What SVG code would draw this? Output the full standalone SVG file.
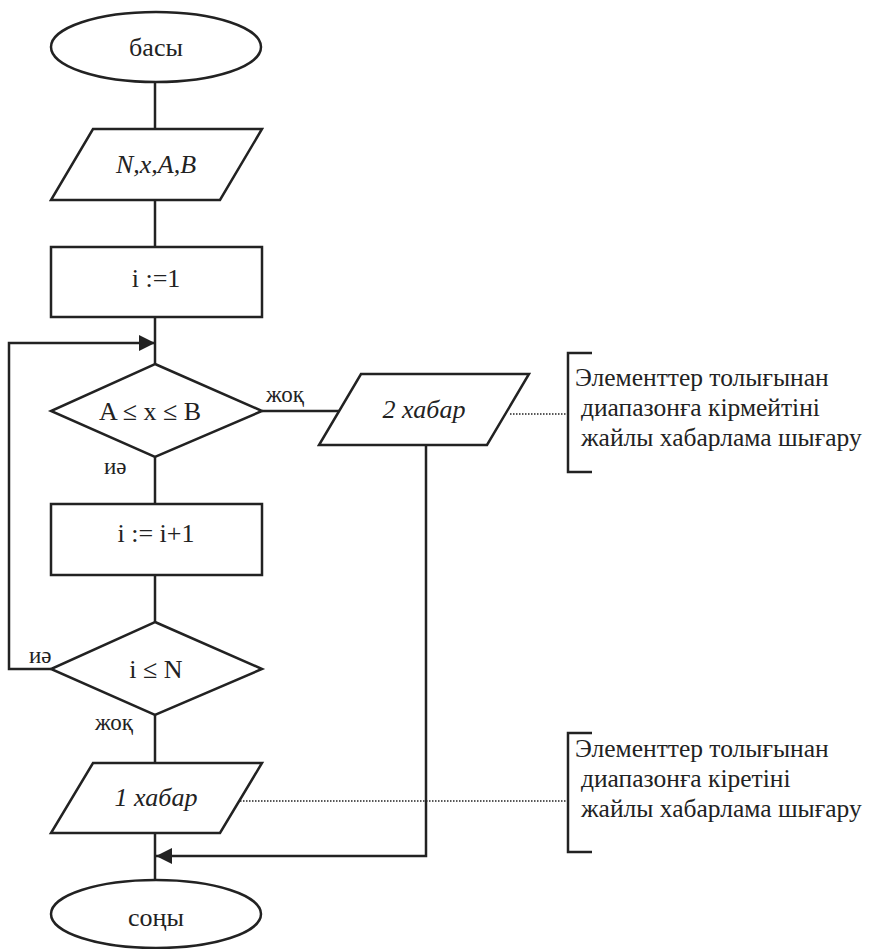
<svg xmlns="http://www.w3.org/2000/svg" width="869" height="949" viewBox="0 0 869 949">
  <defs>
    <style>
      .shape { fill: #fff; stroke: #222; stroke-width: 2.5; }
      .line { fill: none; stroke: #222; stroke-width: 2.5; }
      .dots { fill: none; stroke: #222; stroke-width: 1.5; stroke-dasharray: 1.5 1.5; }
      text { font-family: 'Liberation Serif', 'DejaVu Serif', serif; fill: #222; }
      .t { font-size: 26px; text-anchor: middle; dominant-baseline: central; }
      .it { font-style: italic; }
      .lbl { font-size: 23px; }
      .note { font-size: 25.5px; }
    </style>
    <marker id="arrow" viewBox="0 0 10 10" refX="10" refY="5" markerWidth="16" markerHeight="16" markerUnits="userSpaceOnUse" orient="auto">
      <path d="M0,0 L10,5 L0,10 Z" fill="#222"/>
    </marker>
  </defs>

  <g id="connectors">
    <line class="line" x1="155" y1="82" x2="155" y2="129"/>
    <line class="line" x1="155" y1="200" x2="155" y2="247"/>
    <line class="line" x1="155" y1="317" x2="155" y2="364"/>
    <line class="line" x1="155" y1="457" x2="155" y2="504"/>
    <line class="line" x1="155" y1="575" x2="155" y2="622"/>
    <line class="line" x1="155" y1="715" x2="155" y2="763"/>
    <line class="line" x1="155" y1="833" x2="155" y2="880"/>
    <!-- yes-branch loop back to the range check -->
    <polyline class="line" points="51,669 9,669 9,343 155,343" marker-end="url(#arrow)"/>
    <!-- no-branch to message 2 -->
    <line class="line" x1="262" y1="411" x2="340" y2="411"/>
    <!-- message 2 down to the end -->
    <polyline class="line" points="426,445 426,856 156,856" marker-end="url(#arrow)"/>
    <!-- comment leaders -->
    <line class="dots" x1="510" y1="414" x2="566" y2="414"/>
    <line class="dots" x1="240" y1="801" x2="566" y2="801"/>
    <text class="lbl" x="266" y="402">жоқ</text>
    <text class="lbl" x="104" y="474">иә</text>
    <text class="lbl" x="29" y="663">иә</text>
    <text class="lbl" x="95" y="730">жоқ</text>
  </g>

  <g id="start">
    <ellipse class="shape" cx="156" cy="47" rx="105" ry="35"/>
    <text class="t" x="156" y="47">басы</text>
  </g>

  <g id="input">
    <polygon class="shape" points="93,129 262,129 220,200 51,200"/>
    <text class="t it" x="156" y="164">N,x,A,B</text>
  </g>

  <g id="init">
    <rect class="shape" x="51" y="247" width="211" height="70"/>
    <text class="t" x="156" y="278">i :=1</text>
  </g>

  <g id="range-check">
    <polygon class="shape" points="155,364 262,411 155,457 51,411"/>
    <text class="t" x="150" y="411">A ≤ x ≤ B</text>
  </g>

  <g id="increment">
    <rect class="shape" x="51" y="504" width="211" height="71"/>
    <text class="t" x="156" y="533">i := i+1</text>
  </g>

  <g id="count-check">
    <polygon class="shape" points="155,622 262,669 155,715 51,669"/>
    <text class="t" x="156" y="669">i ≤ N</text>
  </g>

  <g id="message-2">
    <polygon class="shape" points="361,374 529,374 487,445 319,445"/>
    <text class="t it" x="424" y="409">2 хабар</text>
  </g>

  <g id="message-1">
    <polygon class="shape" points="93,763 262,763 220,833 51,833"/>
    <text class="t it" x="156" y="797">1 хабар</text>
  </g>

  <g id="end">
    <ellipse class="shape" cx="156" cy="914" rx="105" ry="34"/>
    <text class="t" x="156" y="917">соңы</text>
  </g>

  <g id="note-2">
    <polyline class="line" points="592,353 568,353 568,472 592,472"/>
    <text class="note" x="575" y="386">Элементтер толығынан</text>
    <text class="note" x="581" y="416">диапазонға кірмейтіні</text>
    <text class="note" x="581" y="446">жайлы хабарлама шығару</text>
  </g>

  <g id="note-1">
    <polyline class="line" points="592,733 568,733 568,852 592,852"/>
    <text class="note" x="575" y="757">Элементтер толығынан</text>
    <text class="note" x="581" y="787">диапазонға кіретіні</text>
    <text class="note" x="581" y="817">жайлы хабарлама шығару</text>
  </g>
</svg>
